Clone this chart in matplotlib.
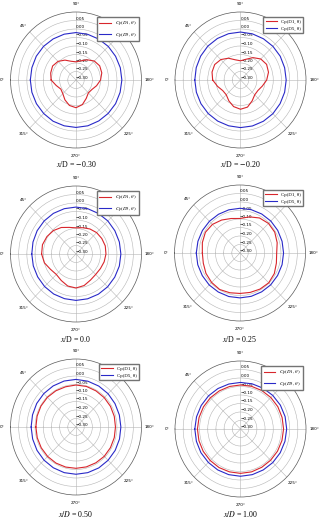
import numpy as np
import matplotlib
matplotlib.use('Agg')
import matplotlib.pyplot as plt

plt.rcParams['mathtext.fontset'] = 'stix'

# sampling angles (degrees)
angles = [0, 15, 30, 45, 60, 75, 90, 105, 120, 135, 150, 165,
          180, 195, 210, 225, 240, 255, 270, 285, 300, 315, 330, 345]

# Cp at D1 (red) for each x/D station
cp_d1_m030 = [-0.148, -0.140, -0.135, -0.145, -0.165, -0.186, -0.193, -0.183, -0.163, -0.142, -0.133, -0.137,
              -0.150, -0.170, -0.188, -0.193, -0.175, -0.150, -0.137, -0.145, -0.165, -0.186, -0.193, -0.175]
cp_d1_m020 = [-0.130, -0.120, -0.118, -0.130, -0.152, -0.177, -0.187, -0.174, -0.148, -0.125, -0.116, -0.123,
              -0.140, -0.162, -0.177, -0.177, -0.158, -0.135, -0.128, -0.138, -0.158, -0.177, -0.175, -0.155]
cp_d1_000 = [-0.090, -0.088, -0.095, -0.105, -0.120, -0.138, -0.146, -0.140, -0.130, -0.122, -0.118, -0.115,
             -0.117, -0.122, -0.128, -0.130, -0.123, -0.108, -0.100, -0.105, -0.120, -0.130, -0.120, -0.100]
cp_d1_025 = [-0.070, -0.062, -0.056, -0.062, -0.076, -0.090, -0.097, -0.080, -0.062, -0.054, -0.055, -0.065,
             -0.076, -0.070, -0.058, -0.052, -0.055, -0.060, -0.062, -0.058, -0.052, -0.055, -0.060, -0.068]
cp_d1_050 = [-0.055, -0.054, -0.053, -0.053, -0.054, -0.055, -0.053, -0.053, -0.055, -0.056, -0.057, -0.058,
             -0.059, -0.058, -0.057, -0.056, -0.057, -0.057, -0.057, -0.056, -0.055, -0.055, -0.055, -0.055]
cp_d1_100 = [-0.037, -0.038, -0.039, -0.040, -0.041, -0.041, -0.041, -0.040, -0.039, -0.038, -0.037, -0.037,
             -0.037, -0.038, -0.039, -0.040, -0.040, -0.039, -0.039, -0.039, -0.038, -0.038, -0.037, -0.037]

# Cp at D5 (blue)
cp_d5_m030 = [-0.021, -0.021, -0.020, -0.020, -0.021, -0.021, -0.021, -0.022, -0.022, -0.021, -0.021, -0.020,
              -0.020, -0.021, -0.021, -0.022, -0.022, -0.021, -0.021, -0.021, -0.020, -0.021, -0.021, -0.021]
cp_d5_m020 = [-0.021, -0.020, -0.019, -0.018, -0.018, -0.018, -0.018, -0.019, -0.020, -0.020, -0.020, -0.021,
              -0.021, -0.021, -0.021, -0.020, -0.020, -0.020, -0.020, -0.021, -0.021, -0.021, -0.021, -0.021]
cp_d5_000 = [-0.030, -0.028, -0.026, -0.025, -0.024, -0.024, -0.024, -0.024, -0.025, -0.025, -0.026, -0.026,
             -0.026, -0.026, -0.027, -0.027, -0.027, -0.027, -0.027, -0.028, -0.028, -0.029, -0.030, -0.030]
cp_d5_025 = [-0.033, -0.034, -0.035, -0.036, -0.037, -0.037, -0.037, -0.036, -0.035, -0.034, -0.034, -0.034,
             -0.034, -0.034, -0.035, -0.035, -0.036, -0.036, -0.036, -0.035, -0.035, -0.034, -0.034, -0.033]
cp_d5_050 = [-0.026, -0.025, -0.023, -0.022, -0.021, -0.020, -0.020, -0.021, -0.022, -0.023, -0.025, -0.026,
             -0.026, -0.025, -0.024, -0.023, -0.022, -0.022, -0.022, -0.022, -0.023, -0.024, -0.025, -0.026]
cp_d5_100 = [-0.021, -0.022, -0.023, -0.024, -0.025, -0.026, -0.026, -0.025, -0.023, -0.021, -0.019, -0.018,
             -0.018, -0.019, -0.020, -0.021, -0.022, -0.022, -0.022, -0.022, -0.022, -0.022, -0.021, -0.021]

red_series = [cp_d1_m030, cp_d1_m020, cp_d1_000, cp_d1_025, cp_d1_050, cp_d1_100]
blue_series = [cp_d5_m030, cp_d5_m020, cp_d5_000, cp_d5_025, cp_d5_050, cp_d5_100]

captions = [r'$x$/D = $-$0.30', r'$x$/D = $-$0.20', r'$x$/D = 0.0',
            r'$x$/D = 0.25', r'$x/D$ = 0.50', r'$x/D$ = 1.00']
italic_legend = [True, False, True, False, False, True]

r_ticks = [0.05, 0.00, -0.05, -0.10, -0.15, -0.20, -0.25, -0.30]
theta_ticks = [0, 45, 90, 135, 180, 225, 270, 315]
theta_labels = ['0°', '45°', '90°', '', '180°', '225°', '270°', '315°']

W, H = 319, 518
fig = plt.figure(figsize=(W / 100, H / 100), dpi=100)

# the source figure is slightly squeezed horizontally, so the plots are ellipses
centers = [(76, 80), (240.5, 80), (76, 254), (240, 253), (76, 427), (240.5, 429)]
caption_y = [164, 164, 339, 339, 514, 514]
RX, RY = 65.5, 68

for i in range(6):
    cx, cy = centers[i]
    ax = fig.add_axes([(cx - RX) / W, 1 - (cy + RY) / H, 2 * RX / W, 2 * RY / H],
                      projection='polar')
    ax.set_aspect('auto')
    ax.set_theta_zero_location('W')
    ax.set_theta_direction(-1)

    th = np.deg2rad(angles + [360])
    red = red_series[i] + [red_series[i][0]]
    blue = blue_series[i] + [blue_series[i][0]]
    if italic_legend[i]:
        lab1, lab5 = r'$Cp(D1,\,\theta)$', r'$Cp(D5,\,\theta)$'
    else:
        lab1, lab5 = 'Cp(D1, θ)', 'Cp(D5, θ)'
    ax.plot(th, red, color='#d8262c', lw=0.8, label=lab1)
    ax.plot(th, blue, color='#2a2ac8', lw=0.8, label=lab5)

    ax.set_ylim(-0.3, 0.1)
    ax.set_yticks(r_ticks)
    ax.set_yticklabels([f'{v:.2f}'.replace('-', '\u2212') for v in r_ticks])
    ax.set_rlabel_position(90)
    ax.set_thetagrids(theta_ticks, labels=theta_labels)
    ax.tick_params(axis='x', labelsize=3.0, pad=-4.5)
    ax.tick_params(axis='y', labelsize=3.0)
    ax.grid(color='#b5b5b5', lw=0.4)
    ax.spines['polar'].set_linewidth(0.5)
    ax.spines['polar'].set_color('0.35')

    ax.legend(loc='upper right', bbox_to_anchor=(0.98, 0.963), borderaxespad=0,
              prop={'family': 'Liberation Serif', 'size': 3.5},
              fancybox=False, edgecolor='0.45', framealpha=1,
              handlelength=2.4, borderpad=0.5, labelspacing=0.45)

    fig.text(cx / W, 1 - caption_y[i] / H, captions[i], ha='center', va='center',
             fontsize=5.7, family='Liberation Serif')

fig.savefig('out.png', dpi=100)
